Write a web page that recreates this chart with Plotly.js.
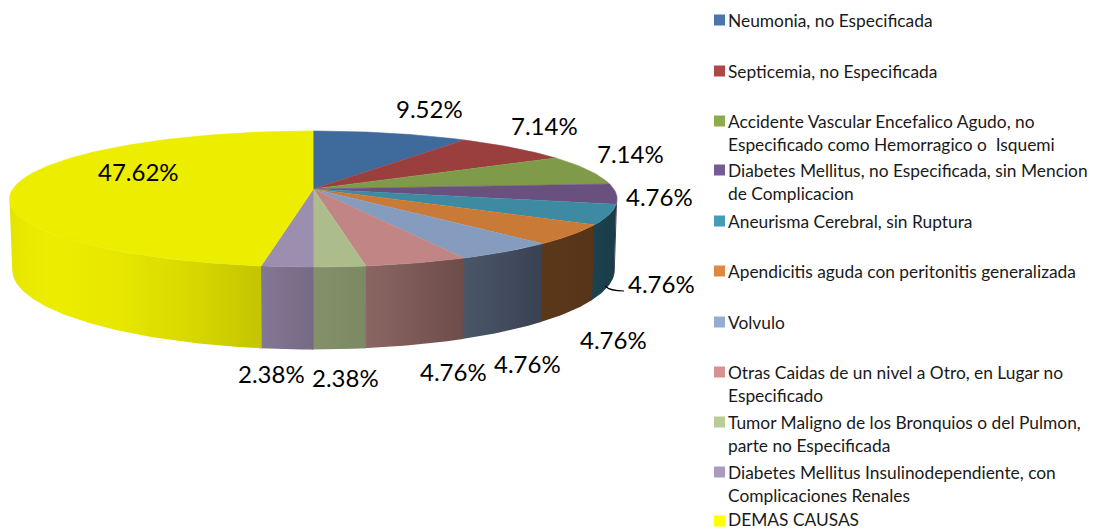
<!DOCTYPE html>
<html>
<head>
<meta charset="utf-8">
<script src="https://cdn.plot.ly/plotly-3.0.1.min.js"></script>
<style>html,body{margin:0;padding:0;background:#fff}#chart{width:1095px;height:529px}</style>
</head>
<body>
<div id="chart"></div>
<script>
// ---- data ----
const categories = [
  "Neumonia, no Especificada",
  "Septicemia, no Especificada",
  "Accidente Vascular Encefalico Agudo, no|Especificado como Hemorragico o  Isquemi",
  "Diabetes Mellitus, no Especificada, sin Mencion|de Complicacion",
  "Aneurisma Cerebral, sin Ruptura",
  "Apendicitis aguda con peritonitis generalizada",
  "Volvulo",
  "Otras Caidas de un nivel a Otro, en Lugar no|Especificado",
  "Tumor Maligno de los Bronquios o del Pulmon,|parte no Especificada",
  "Diabetes Mellitus Insulinodependiente, con|Complicaciones Renales",
  "DEMAS CAUSAS"
];
const values = [9.52, 7.14, 7.14, 4.76, 4.76, 4.76, 4.76, 4.76, 2.38, 2.38, 47.62];

// ---- styles and layout ----
const topColors = ["#3f6b9c","#9b3f3e","#7f9b4a","#69507f","#3e8aa2","#c97a36","#869cbf","#c08584","#adbc8b","#9c8eae","#eded00"];
// wall gradients, listed left to right as seen on screen
const wallColors = [
  ["#2c4a6d","#2c4a6d"],["#6d2c2b","#6d2c2b"],["#596d34","#596d34"],["#3f2f4e","#3b2c4a"],
  ["#1d4250","#1a3c49"],["#5c381b","#573417"],["#4b5769","#394253"],["#8b6764","#6d4c4a"],
  ["#849069","#7b8a63"],["#837896","#766a84"],
  ["#e4e400","#e9e900","#eded00","#e6e600","#d8d800","#c4c400"]
];
const yellowStops = [0,0.06,0.18,0.45,0.72,1];
const legendColors = ["#4a76ab","#ae4747","#8eaa50","#755b94","#449db5","#e08841","#95abd2","#d49392","#b7cc96","#a99bbf","#ffff00"];
const legendY = [20,71,121,170,221,271,322,372,422,472,521];
const legendTextY = [20,71,121,170,221,271,322,372,422,472,519];
const legendLineGap = 23.5;
const labelX = [429,544,630,659,661,613,527,453,345,271,138];
const labelY = [108,125,153,196,283,339,363,371,377,373,171];

const topDisc = {x0:313.3, y0:189, B:300.5, A:66.5, k:0.147};
const botDisc = {x0:313.5, y0:258, B:298, A:78, k:0.147};
function project(d, deg){
  const t = deg*Math.PI/180, u = Math.sin(t), v = Math.cos(t), s = 1 + d.k*v;
  return [d.x0 + d.B*u/s, d.y0 - d.A*v/s];
}
function arc(d, a, b){
  const pts = [], n = Math.max(2, Math.ceil(Math.abs(b-a)));
  for(let i=0;i<=n;i++) pts.push(project(d, a+(b-a)*i/n));
  return pts;
}

const total = values.reduce((s,v)=>s+v,0);
let cum = 0;
const slices = values.map(v=>{const a=cum/total*360; cum+=v; return [a,cum/total*360];});

const traces = [];
// outer walls: visible part runs between the two silhouette tangents of the disc
const wallFrom = Math.acos(-topDisc.k)*180/Math.PI, wallTo = 360-wallFrom;
slices.forEach((sl,i)=>{
  const a = Math.max(sl[0],wallFrom), b = Math.min(sl[1],wallTo);
  if(b<=a) return;
  const end = Math.min(b+0.4,wallTo);
  const poly = arc(topDisc,a,end).concat(arc(botDisc,end,a));
  const cols = wallColors[i];
  const scale = cols.length===2 ? [[0,cols[0]],[1,cols[1]]] : cols.map((c,j)=>[yellowStops[j],c]);
  traces.push({x:poly.map(p=>p[0]), y:poly.map(p=>p[1]), mode:"lines", line:{width:0},
    fill:"toself", fillgradient:{type:"horizontal", colorscale:scale},
    hoverinfo:"skip", showlegend:false});
});
// top faces
slices.forEach((sl,i)=>{
  const pts = [[topDisc.x0, topDisc.y0]].concat(arc(topDisc,sl[0],sl[1]));
  traces.push({x:pts.map(p=>p[0]), y:pts.map(p=>p[1]), mode:"lines",
    line:{width:0.6,color:topColors[i]}, fill:"toself", fillcolor:topColors[i],
    hoverinfo:"text", text:categories[i].replace("|"," ")+": "+values[i].toFixed(2)+"%", showlegend:false});
});
// legend swatches
traces.push({x:legendY.map(()=>719.5), y:legendY, mode:"markers",
  marker:{symbol:"square", size:11, color:legendColors, line:{width:0}},
  hoverinfo:"skip", showlegend:false});

const font = "Lato, Carlito, Calibri, sans-serif";
const annotations = [];
categories.forEach((c,i)=>{
  c.split("|").forEach((line,j)=>{
    annotations.push({x:729, y:legendTextY[i]+j*legendLineGap, xref:"x", yref:"y", text:line, showarrow:false,
      xanchor:"left", yanchor:"middle", xshift:-3, font:{family:font,size:17.35,color:"#1a1a1a"}});
  });
});
values.forEach((v,i)=>{
  annotations.push({x:labelX[i], y:labelY[i], xref:"x", yref:"y", text:v.toFixed(2)+"%", showarrow:false,
    xanchor:"center", yanchor:"middle", font:{family:font,size:24,color:"#000"}});
});

const layout = {
  width:1095, height:529, margin:{l:0,r:0,t:0,b:0},
  paper_bgcolor:"#fff", plot_bgcolor:"#fff", showlegend:false,
  xaxis:{range:[0,1095], visible:false, fixedrange:true},
  yaxis:{range:[529,0], visible:false, fixedrange:true},
  annotations,
  shapes:[{type:"path", xref:"x", yref:"y", path:"M605 286 Q610 291 624 291", line:{color:"#000",width:1.2}}]
};
Plotly.newPlot("chart", traces, layout, {displayModeBar:false});
</script>
</body>
</html>
